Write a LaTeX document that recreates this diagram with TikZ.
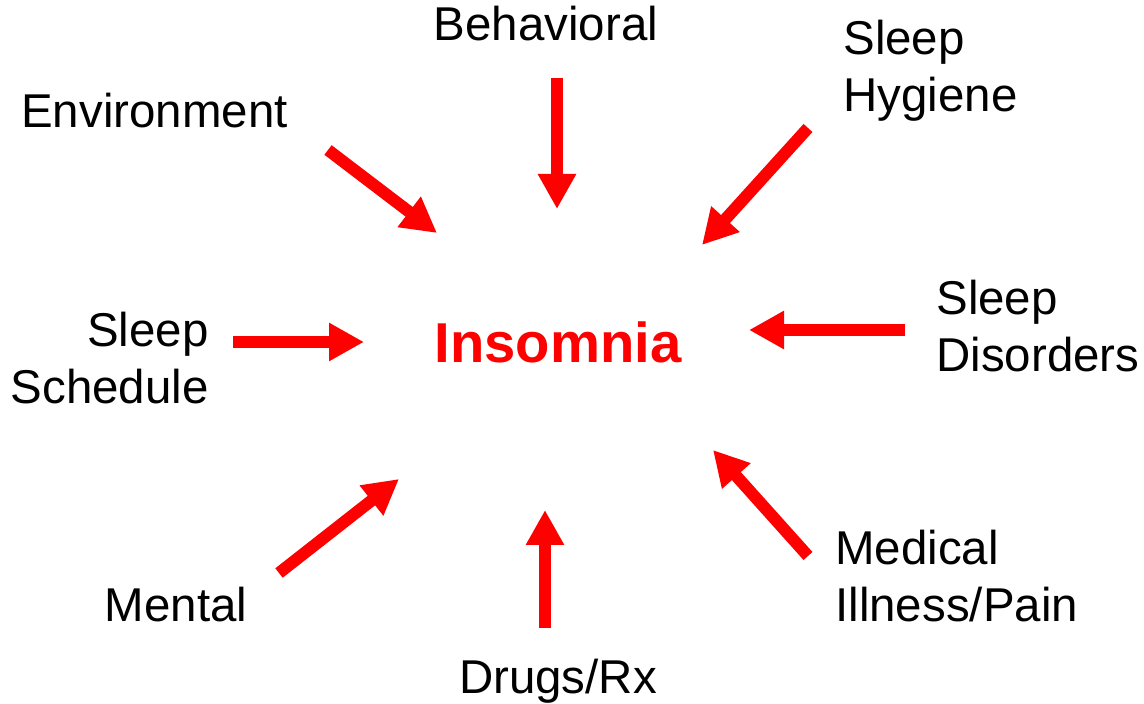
\documentclass[tikz,border=0pt]{standalone}
\usepackage{fontspec}
\setmainfont{Liberation Sans}
\usetikzlibrary{arrows.meta}

\tikzset{
    factor/.style={inner sep=0pt, font=\fontsize{27pt}{32.7pt}\selectfont},
    cause/.style={draw=red, line width=0.24cm, -{Triangle[width=0.72cm, length=0.7cm]}}
}

\begin{document}
\begin{tikzpicture}[scale=1]
        \useasboundingbox (0,0) rectangle (22.88,14.08);
        % labels (multi-line ones sit on their last line)
        \node[factor, anchor=base] (beh) at (10.92,13.26) {Behavioral};
        \node[factor, anchor=base west, align=left] (hyg) at (16.86,11.84) {Sleep\\Hygiene};
        \node[factor, anchor=base] (env) at (3.09,11.52) {Environment};
        \node[factor, anchor=base east, align=right] (sch) at (4.18,6.0) {Sleep\\Schedule};
        \node[factor, anchor=base west, align=left] (dis) at (18.72,6.64) {Sleep\\Disorders};
        \node[factor, anchor=base] (men) at (3.52,1.64) {Mental};
        \node[factor, anchor=base] (drg) at (11.16,0.22) {Drugs/Rx};
        \node[factor, anchor=base west, align=left] (med) at (16.7,1.64) {Medical\\Illness/Pain};
        \node[inner sep=0pt, anchor=base, text=red, font=\fontsize{32pt}{38pt}\selectfont\bfseries] (ins) at (11.16,6.82) {Insomnia};
        % arrow tails and heads
        \coordinate (beh-t) at (11.14,12.52);  \coordinate (beh-h) at (11.14,9.9);
        \coordinate (hyg-t) at (16.16,11.52);  \coordinate (hyg-h) at (14.04,9.18);
        \coordinate (env-t) at (6.56,11.08);   \coordinate (env-h) at (8.74,9.42);
        \coordinate (sch-t) at (4.66,7.24);    \coordinate (sch-h) at (7.28,7.24);
        \coordinate (dis-t) at (18.1,7.48);    \coordinate (dis-h) at (14.98,7.48);
        \coordinate (med-t) at (16.16,2.96);   \coordinate (med-h) at (14.26,5.08);
        \coordinate (men-t) at (5.58,2.62);    \coordinate (men-h) at (7.98,4.5);
        \coordinate (drg-t) at (10.9,1.52);    \coordinate (drg-h) at (10.9,3.88);
        \foreach \n in {beh,hyg,env,sch,dis,med,men,drg} {
            \draw[cause] (\n-t) -- (\n-h);
        }
    \end{tikzpicture}
\end{document}
